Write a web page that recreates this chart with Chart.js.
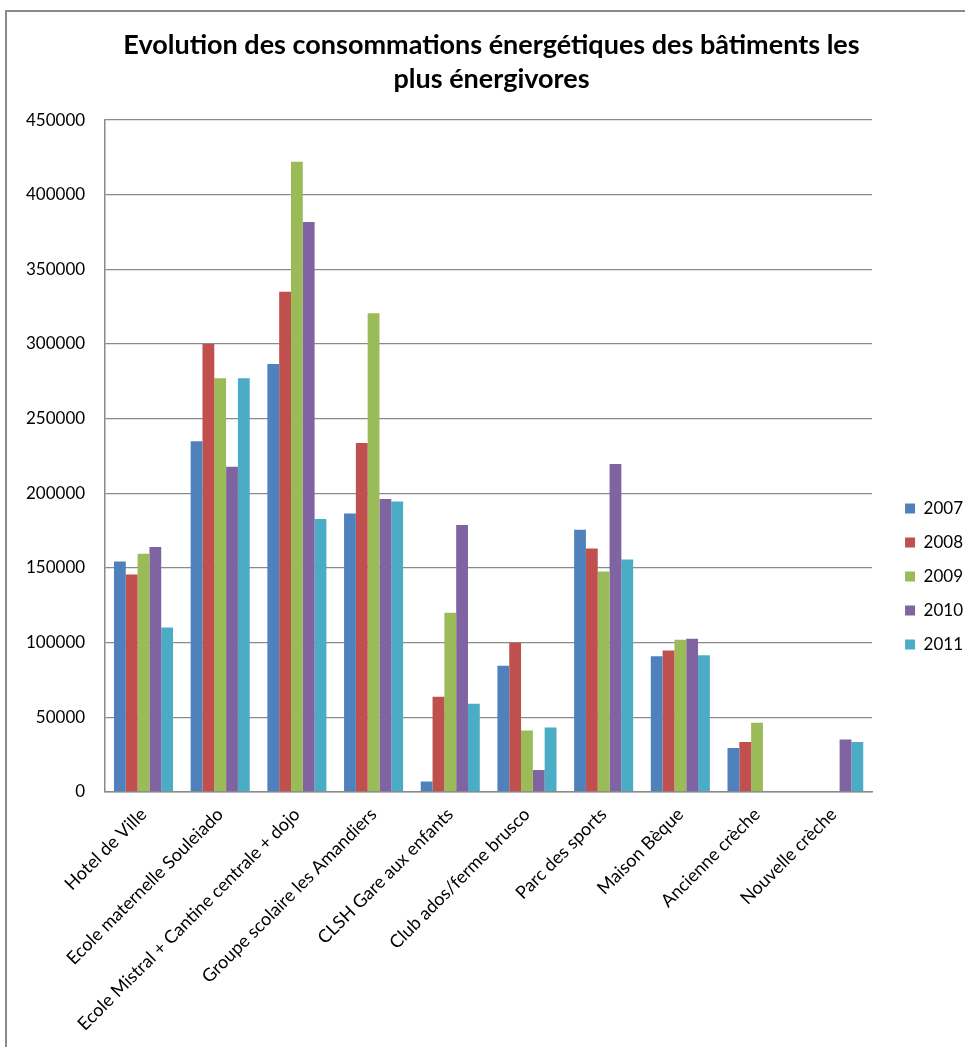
<!DOCTYPE html>
<html lang="fr">
<head>
    <meta charset="UTF-8">
    <title>Evolution des consommations énergétiques</title>
    <script src="https://cdn.jsdelivr.net/npm/chart.js"></script>
    <style>
        html, body { margin: 0; padding: 0; background: #fff; overflow: hidden; }
        .cadre { position: absolute; left: 5px; top: 10px; width: 980px; height: 1100px; border-left: 2px solid #8a8a8a; border-top: 2px solid #8a8a8a; }
        #graphique { position: absolute; left: 0; top: 0; }
    </style>
</head>
<body>
    <div class="cadre"></div>
    <canvas id="graphique" width="965" height="1047"></canvas>

    <script>
        // données (kWh)
        const batiments = ['Hotel de Ville', 'Ecole maternelle Souleiado', 'Ecole Mistral + Cantine centrale + dojo',
            'Groupe scolaire les Amandiers', 'CLSH Gare aux enfants', 'Club ados/ferme brusco',
            'Parc des sports', 'Maison Bèque', 'Ancienne crèche', 'Nouvelle crèche'];
        const annees = ['2007', '2008', '2009', '2010', '2011'];
        const conso2007 = [154300, 234800, 286600, 186400, 6900, 84400, 175600, 90800, 29400, null];
        const conso2008 = [145600, 300000, 335000, 233600, 63700, 99800, 163000, 94600, 33400, null];
        const conso2009 = [159400, 277000, 422000, 320600, 119900, 41000, 147600, 101800, 46200, null];
        const conso2010 = [163900, 217700, 381700, 196200, 178700, 14600, 219500, 102500, null, 35100];
        const conso2011 = [110000, 277000, 182800, 194400, 59000, 43000, 155600, 91500, null, 33400];
        const couleurs = ['#4f81bd', '#c0504d', '#9bbb59', '#8064a2', '#4bacc6'];

        const series = [conso2007, conso2008, conso2009, conso2010, conso2011];
        const police = 'Lato, "Liberation Sans", sans-serif';

        // dans Excel la légende est un peu plus à droite et plus bas, le titre un peu à droite
        const decalages = {
            id: 'decalages',
            afterLayout(chart) {
                const lg = chart.legend;
                lg.left += 16; lg.right += 16;
                lg.top += 53; lg.bottom += 53;
                const t = chart.titleBlock;
                t.left += 10; t.right += 10;
            }
        };

        let ctx = document.getElementById('graphique').getContext('2d');
        let chart = new Chart(ctx, {
            type: 'bar',
            data: {
                labels: batiments,
                datasets: series.map((s, i) => ({
                    label: annees[i],
                    data: s,
                    backgroundColor: couleurs[i],
                    borderWidth: 0,
                    categoryPercentage: 0.77,
                    barPercentage: 1
                }))
            },
            options: {
                responsive: false,
                animation: false,
                layout: { padding: { left: 6, right: 8, top: 0, bottom: 0 } },
                plugins: {
                    title: {
                        display: true,
                        text: ['Evolution des consommations énergétiques des bâtiments les', 'plus énergivores'],
                        color: '#000',
                        font: { family: police, size: 27, weight: 'bold', lineHeight: 1.26 },
                        padding: { top: 28, bottom: 24 }
                    },
                    legend: {
                        position: 'right',
                        labels: {
                            boxWidth: 10, boxHeight: 10, padding: 17,
                            color: '#000',
                            font: { family: police, size: 17 }
                        }
                    },
                    tooltip: { enabled: false }
                },
                scales: {
                    x: {
                        grid: { display: false, drawTicks: false },
                        border: { color: '#8a8a8a', width: 1.5 },
                        ticks: {
                            autoSkip: false, minRotation: 45, maxRotation: 45, padding: 12,
                            color: '#000', font: { family: police, size: 18 }
                        }
                    },
                    y: {
                        min: 0, max: 450000,
                        grid: { color: '#8a8a8a', lineWidth: 1.2, drawTicks: false },
                        border: { color: '#8a8a8a', width: 1.5 },
                        ticks: {
                            stepSize: 50000, padding: 20,
                            color: '#000', font: { family: police, size: 17 },
                            callback: v => String(v)
                        }
                    }
                }
            },
            plugins: [decalages]
        });
    </script>
</body>
</html>
